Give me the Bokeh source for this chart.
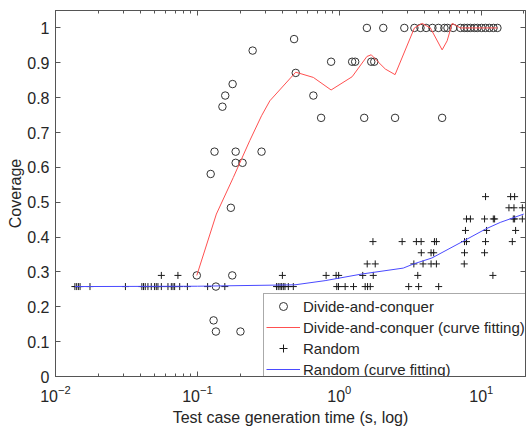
from bokeh.plotting import figure
from bokeh.models import (FixedTicker, LogAxis, LinearAxis, Legend, LegendItem,
                          BasicTickFormatter, Range1d, LogTickFormatter)
from bokeh.embed import file_html
from bokeh.resources import INLINE

# ---------------- data ----------------
dc_time = [0.099, 0.124, 0.130, 0.132, 0.135, 0.135, 0.150, 0.157, 0.172, 0.176,
           0.177, 0.186, 0.186, 0.201, 0.208, 0.245, 0.283, 0.480, 0.493, 0.656,
           0.744, 0.875, 1.231, 1.293, 1.497, 1.564, 1.678, 1.762, 2.04, 2.47,
           2.87, 3.38, 3.73, 4.09, 4.53, 4.99, 5.30, 5.50, 5.78, 6.34,
           7.13, 7.60, 7.98, 8.39, 8.95, 9.40, 10.05, 10.7, 11.4, 12.2, 13.0]
dc_cov = [0.290, 0.581, 0.161, 0.645, 0.258, 0.129, 0.774, 0.806, 0.484, 0.290,
          0.839, 0.645, 0.613, 0.129, 0.613, 0.935, 0.645, 0.968, 0.871, 0.806,
          0.742, 0.903, 0.903, 0.903, 0.742, 1.0, 0.903, 0.903, 1.0, 0.742,
          1.0, 1.0, 1.0, 1.0, 1.0, 1.0, 0.742, 1.0, 1.0, 1.0,
          1.0, 1.0, 1.0, 1.0, 1.0, 1.0, 1.0, 1.0, 1.0, 1.0, 1.0]

dc_fit_time = [0.099, 0.136, 0.179, 0.234, 0.283, 0.324, 0.493, 0.656, 0.875,
               1.231, 1.564, 1.678, 1.84, 2.11, 2.47, 3.38, 3.83, 4.38, 5.30,
               5.75, 6.24, 7.13, 13.0]
dc_fit_cov = [0.290, 0.466, 0.571, 0.677, 0.748, 0.791, 0.873, 0.858, 0.822,
              0.860, 0.918, 0.923, 0.906, 0.882, 0.866, 1.0, 1.013, 1.0, 0.937,
              0.963, 1.013, 1.0, 1.0]

rnd_time = [0.0137, 0.0141, 0.0145, 0.0149, 0.0175, 0.0311, 0.0406, 0.0417, 0.0429,
            0.0448, 0.0473, 0.0499, 0.0513, 0.0527, 0.0557, 0.0620, 0.0655, 0.0673,
            0.0691, 0.0750, 0.0850, 0.118, 0.156, 0.361, 0.371, 0.382, 0.392, 0.403,
            0.414, 0.437, 0.474, 0.959, 0.986, 1.099, 1.259, 1.521, 1.581, 1.652,
            3.08, 3.62, 5.01,
            0.0557, 0.0729, 0.397, 0.807, 0.949, 0.989, 1.462, 1.734, 3.57, 12.08,
            1.572, 1.790, 3.35, 3.89, 4.43, 4.83, 7.59,
            3.78, 4.43, 4.62, 7.62, 10.55,
            1.725, 2.77, 3.49, 3.77, 4.68, 4.83, 7.62, 7.87, 10.72, 16.55,
            7.74, 10.9, 17.46,
            7.87, 8.39, 10.55, 12.16, 12.42, 16.82, 17.18, 19.48,
            15.67, 17.0, 19.48,
            10.72, 16.1, 17.18]
rnd_cov = ([0.258] * 41 + [0.290] * 10 + [0.323] * 7 + [0.355] * 5 + [0.387] * 10
           + [0.419] * 3 + [0.452] * 8 + [0.484] * 3 + [0.516] * 3)

rnd_fit_time = [0.0137, 0.1, 0.487, 0.794, 1.44, 2.82, 3.34, 4.49, 7.53, 10.72, 13.6, 19.9]
rnd_fit_cov = [0.258, 0.259, 0.263, 0.275, 0.294, 0.311, 0.323, 0.340, 0.389, 0.423, 0.442, 0.466]

x_major = [0.01, 0.1, 1, 10]
x_minor = [0.02, 0.03, 0.04, 0.05, 0.06, 0.07, 0.08, 0.09,
           0.2, 0.3, 0.4, 0.5, 0.6, 0.7, 0.8, 0.9,
           2, 3, 4, 5, 6, 7, 8, 9, 20]
y_ticks = [0, 0.1, 0.2, 0.3, 0.4, 0.5, 0.6, 0.7, 0.8, 0.9, 1.0]

legend_labels = ["Divide-and-conquer", "Divide-and-conquer (curve fitting)",
                 "Random", "Random (curve fitting)"]

# ---------------- styling ----------------
FONT = "Liberation Sans"
TXT = "#262626"
AX = "#555555"
RED = "#ff5050"
BLUE = "#4a4aff"

p = figure(width=532, height=429, x_axis_type="log",
           x_range=Range1d(0.01, 20.5), y_range=Range1d(0, 1.05),
           output_backend="svg", toolbar_location=None,
           min_border_left=55, min_border_right=7, min_border_top=10,
           min_border_bottom=53)
p.grid.visible = False
p.outline_line_color = AX
p.background_fill_color = "white"
p.border_fill_color = "white"

xt = FixedTicker(ticks=x_major, minor_ticks=x_minor)
yt = FixedTicker(ticks=y_ticks)


def style_axis(ax):
    ax.axis_line_color = AX
    ax.major_tick_line_color = AX
    ax.minor_tick_line_color = AX
    ax.major_tick_in = 5
    ax.major_tick_out = 0
    ax.minor_tick_in = 3
    ax.minor_tick_out = 0
    ax.major_label_text_font = FONT
    ax.major_label_text_font_size = "16px"
    ax.major_label_text_color = TXT
    ax.axis_label_text_font = FONT
    ax.axis_label_text_font_size = "16px"
    ax.axis_label_text_font_style = "normal"
    ax.axis_label_text_color = TXT


xa = p.xaxis[0]
xa.ticker = xt
xa.formatter = LogTickFormatter()
style_axis(xa)
xa.major_label_standoff = 8
xa.axis_label = "Test case generation time (s, log)"
xa.axis_label_standoff = 4

ya = p.yaxis[0]
ya.ticker = yt
ya.formatter = BasicTickFormatter(precision=1)
ya.major_label_overrides = {0: "0", 1.0: "1"}
style_axis(ya)
ya.minor_tick_in = 0
ya.major_label_standoff = 6
ya.axis_label = "Coverage"
ya.axis_label_standoff = 0

top = LogAxis(ticker=xt)
style_axis(top)
top.major_label_text_font_size = "1px"
top.major_label_text_alpha = 0
top.major_label_standoff = 0
p.add_layout(top, "above")

right = LinearAxis(ticker=yt)
style_axis(right)
right.minor_tick_in = 0
right.major_label_text_font_size = "1px"
right.major_label_text_alpha = 0
right.major_label_standoff = 0
p.add_layout(right, "right")

# ---------------- glyphs ----------------
rc = p.scatter(dc_time, dc_cov, marker="circle", size=7.5, fill_color=None,
               line_color="#333333", line_width=1)
rr = p.line(dc_fit_time, dc_fit_cov, line_color=RED, line_width=1)
rp = p.scatter(rnd_time, rnd_cov, marker="cross", size=7, line_color="#1a1a1a", line_width=1)
rb = p.line(rnd_fit_time, rnd_fit_cov, line_color=BLUE, line_width=1)

legend = Legend(items=[LegendItem(label=legend_labels[0], renderers=[rc]),
                       LegendItem(label=legend_labels[1], renderers=[rr]),
                       LegendItem(label=legend_labels[2], renderers=[rp]),
                       LegendItem(label=legend_labels[3], renderers=[rb])],
                location=(208, -6))
legend.label_text_font = FONT
legend.label_text_font_size = "15px"
legend.label_text_color = TXT
legend.glyph_width = 34
legend.glyph_height = 20
legend.label_height = 20
legend.label_standoff = 3
legend.padding = 2
legend.spacing = 1
legend.margin = 0
legend.border_line_color = AX
legend.border_line_width = 1
legend.background_fill_color = "white"
legend.background_fill_alpha = 1.0
p.add_layout(legend)

open("out.html", "w").write(file_html(p, INLINE))
